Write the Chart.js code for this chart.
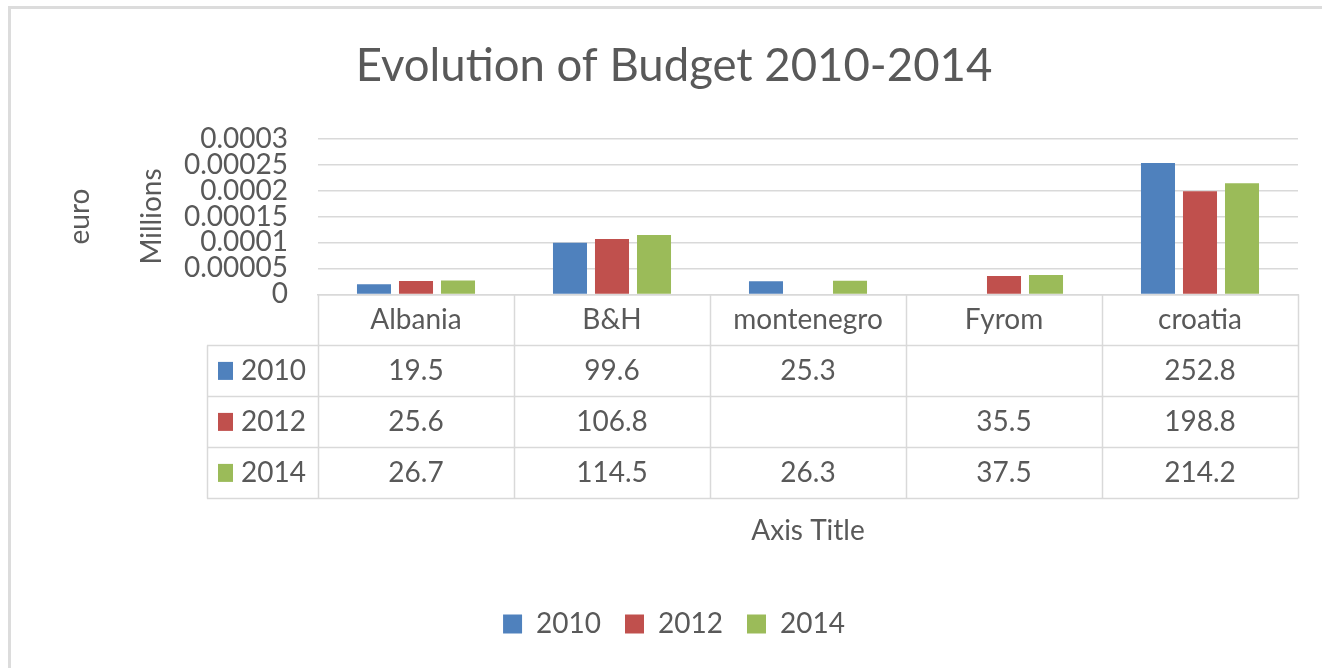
<!DOCTYPE html>
<html>
<head>
<meta charset="utf-8">
<title>Evolution of Budget 2010-2014</title>
<script src="https://cdn.jsdelivr.net/npm/chart.js@4.4.1/dist/chart.umd.min.js"></script>
<style>
  html, body { margin: 0; padding: 0; background: #fff; }
  #wrap { position: relative; width: 1322px; height: 668px; overflow: hidden; }
  #frame {
    position: absolute; left: 8px; top: 6px; width: 1400px; height: 700px;
    border-left: 3px solid #dcdcdc; border-top: 3px solid #dcdcdc;
    pointer-events: none;
  }
  canvas { position: absolute; left: 0; top: 0; }
</style>
</head>
<body>
<div id="wrap">
  <canvas id="budgetChart" width="1322" height="668"></canvas>
  <div id="frame"></div>
</div>
<script>
"use strict";

// ── Data (euro, shown on the axis in millions) ────────────
const countries   = ["Albania", "B&H", "montenegro", "Fyrom", "croatia"];
const seriesNames = ["2010", "2012", "2014"];
const budget2010  = [19.5, 99.6, 25.3, null, 252.8];
const budget2012  = [25.6, 106.8, null, 35.5, 198.8];
const budget2014  = [26.7, 114.5, 26.3, 37.5, 214.2];
const yTickLabels = ["0", "0.00005", "0.0001", "0.00015", "0.0002", "0.00025", "0.0003"];

// ── Style ─────────────────────────────────────────────────
const FONT       = 'Lato, "Open Sans", sans-serif';
const TEXT_COLOR = "#595959";
const LINE_COLOR = "#d9d9d9";
const colors     = ["#4f81bd", "#c0504d", "#9bbb59"];
const seriesData = [budget2010, budget2012, budget2014];

const toMillions = v => (v == null ? null : v / 1e6);

// ── Data table under the plot ─────────────────────────────
const tablePlugin = {
  id: "dataTable",
  afterDraw(chart) {
    const { ctx, chartArea, scales } = chart;
    const x       = scales.x;
    const rowH    = 51;
    const keyColW = 111;
    const top     = chartArea.bottom;
    const left    = chartArea.left;
    const right   = chartArea.right;
    const colW    = (right - left) / countries.length;
    const bottom  = top + rowH * (seriesNames.length + 1);

    ctx.save();
    ctx.strokeStyle = LINE_COLOR;
    ctx.lineWidth = 1.5;
    ctx.beginPath();
    // vertical lines
    for (let i = 0; i <= countries.length; i++) {
      const px = Math.round(left + colW * i) + 0.5;
      ctx.moveTo(px, top);
      ctx.lineTo(px, bottom);
    }
    ctx.moveTo(left - keyColW + 0.5, top + rowH);
    ctx.lineTo(left - keyColW + 0.5, bottom);
    // horizontal lines
    for (let r = 1; r <= seriesNames.length + 1; r++) {
      const py = Math.round(top + rowH * r) + 0.5;
      ctx.moveTo(left - keyColW, py);
      ctx.lineTo(right, py);
    }
    ctx.stroke();

    ctx.fillStyle = TEXT_COLOR;
    ctx.font = "28px " + FONT;
    ctx.textAlign = "center";
    ctx.textBaseline = "middle";
    countries.forEach((c, i) => {
      ctx.fillText(c, x.getPixelForValue(i), top + rowH / 2);
    });

    seriesNames.forEach((name, s) => {
      const cy = top + rowH * (s + 1) + rowH / 2;
      ctx.fillStyle = colors[s];
      ctx.fillRect(left - keyColW + 11, cy - 9, 15, 18);
      ctx.fillStyle = TEXT_COLOR;
      ctx.textAlign = "left";
      ctx.fillText(name, left - keyColW + 34, cy);
      ctx.textAlign = "center";
      seriesData[s].forEach((v, i) => {
        if (v != null) ctx.fillText(String(v), x.getPixelForValue(i), cy);
      });
    });
    ctx.restore();
  },
};

// ── Chart ─────────────────────────────────────────────────
const ctx = document.getElementById("budgetChart").getContext("2d");

new Chart(ctx, {
  type: "bar",
  data: {
    labels: countries,
    datasets: seriesNames.map((name, s) => ({
      label: name,
      data: seriesData[s].map(toMillions),
      backgroundColor: colors[s],
      borderWidth: 0,
      categoryPercentage: 0.643,
      barPercentage: 0.81,
    })),
  },
  options: {
    responsive: false,
    animation: false,
    layout: { padding: { left: 50, right: 24, top: 10, bottom: 20 } },
    plugins: {
      title: {
        display: true,
        text: "Evolution of Budget 2010-2014",
        color: TEXT_COLOR,
        font: { family: FONT, size: 45.5, weight: "normal" },
        padding: { top: 29, bottom: 45 },
      },
      legend: {
        position: "bottom",
        labels: {
          color: TEXT_COLOR,
          font: { family: FONT, size: 28 },
          boxWidth: 19,
          boxHeight: 19,
          padding: 24,
        },
      },
      tooltip: { enabled: false },
    },
    scales: {
      x: {
        grid: { display: false, drawTicks: false },
        border: { display: true, color: LINE_COLOR, width: 1.5 },
        ticks: { display: false },
        title: {
          display: true,
          text: "Axis Title",
          color: TEXT_COLOR,
          font: { family: FONT, size: 28 },
          padding: { top: 220, bottom: 38 },
        },
      },
      y: {
        min: 0,
        max: 0.0003,
        afterFit: scale => { scale.width = 268; },
        grid: { color: LINE_COLOR, lineWidth: 1.5, drawTicks: false },
        border: { display: false },
        ticks: {
          stepSize: 0.00005,
          autoSkip: false,
          color: TEXT_COLOR,
          font: { family: FONT, size: 28 },
          padding: 30,
          callback: (v, i) => yTickLabels[i],
        },
        title: {
          display: true,
          text: ["euro", "Millions"],
          color: TEXT_COLOR,
          font: { family: FONT, size: 28, lineHeight: 2.57 },
          padding: { top: -6, bottom: 0 },
        },
      },
    },
  },
  plugins: [tablePlugin],
});
</script>
</body>
</html>
